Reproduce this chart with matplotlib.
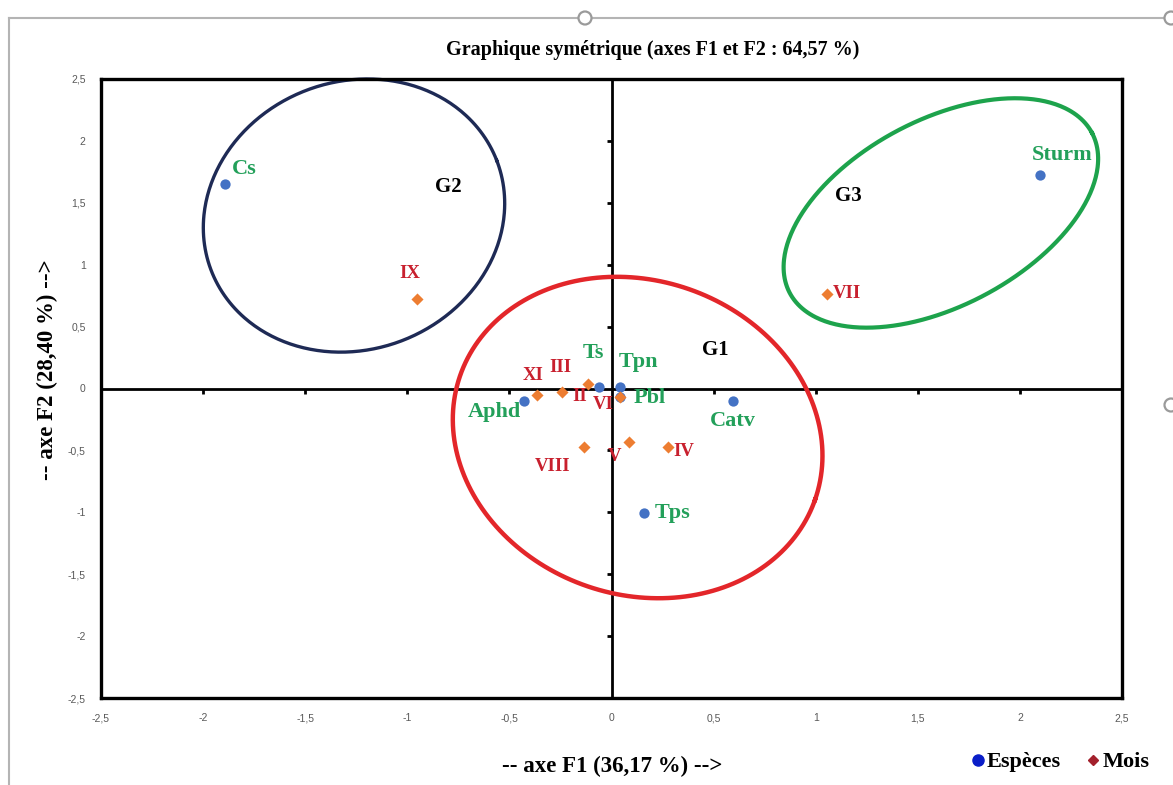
import numpy as np
import matplotlib
matplotlib.use("Agg")
import matplotlib.pyplot as plt
from matplotlib.lines import Line2D
from matplotlib.patches import Circle
from matplotlib.ticker import FuncFormatter, MultipleLocator

# ---- Coordinates on the first two factorial axes ----
especes = ["Cs", "Sturm", "Ts", "Tpn", "Pbl", "Aphd", "Catv", "Tps"]
especes_f1 = [-1.894, 2.098, -0.060, 0.042, 0.042, -0.427, 0.596, 0.159]
especes_f2 = [1.652, 1.725, 0.010, 0.010, -0.069, -0.101, -0.101, -1.008]

mois = ["II", "III", "IV", "V", "VI", "VII", "VIII", "IX", "XI"]
mois_f1 = [-0.244, -0.114, 0.275, 0.086, 0.042, 1.057, -0.135, -0.954, -0.363]
mois_f2 = [-0.031, 0.034, -0.475, -0.430, -0.066, 0.763, -0.475, 0.721, -0.055]

groupes = ["G1", "G2", "G3"]
groupes_f1 = [0.507, -0.799, 1.160]
groupes_f2 = [0.311, 1.625, 1.557]

ticks = [-2.5, -2, -1.5, -1, -0.5, 0, 0.5, 1, 1.5, 2, 2.5]

# ---- Styling ----
SERIF = "Liberation Serif"
SANS = "Liberation Sans"
C_ESP = "#4472C4"
C_MOIS = "#ED7D31"
C_ESP_TXT = "#23A05A"
C_MOIS_TXT = "#C8202E"

# label offsets in pixels (right, up)
esp_offsets = {"Cs": (20, 15), "Sturm": (22, 20), "Ts": (-6, 34), "Tpn": (18, 25),
               "Pbl": (30, -1), "Aphd": (-30, -11), "Catv": (0, -20), "Tps": (29, 0)}
mois_offsets = {"II": (18, -4), "III": (-28, 17), "IV": (16, -4), "V": (-15, -15),
                "VI": (-17, -8), "VII": (20, 1), "VIII": (-31, -19), "IX": (-7, 26),
                "XI": (-4, 20)}

# group outlines: centre (F1, F2), semi-axes in pixels, tilt in degrees, colour, width
contours = [
    ((0.128, -0.396), 188, 157, -19.4, "#E3262A", 3.2),
    ((-1.261, 1.397), 153, 134, 21.0, "#1E2A55", 2.4),
    ((1.613, 1.418), 171, 93, 27.9, "#1DA34C", 3.0),
]

W, H, DPI = 1173, 785, 100
fig = plt.figure(figsize=(W / DPI, H / DPI), dpi=DPI)
fig.patch.set_facecolor("white")
ax = fig.add_axes([101 / W, 1 - 698 / H, (1122 - 101) / W, (698 - 79) / H])

ax.set_xlim(-2.5, 2.5)
ax.set_ylim(-2.5, 2.5)
fmt = FuncFormatter(lambda v, p: ("%g" % v).replace(".", ","))
ax.xaxis.set_major_locator(MultipleLocator(0.5))
ax.yaxis.set_major_locator(MultipleLocator(0.5))
ax.xaxis.set_major_formatter(fmt)
ax.yaxis.set_major_formatter(fmt)
ax.tick_params(length=0, labelsize=7.5, labelcolor="#595959", pad=11)
for lab in ax.get_xticklabels() + ax.get_yticklabels():
    lab.set_fontfamily(SANS)
for s in ax.spines.values():
    s.set_linewidth(2.4)
    s.set_color("black")

# axes through the origin with small tick marks
ax.axhline(0, color="black", lw=2, zorder=1)
ax.axvline(0, color="black", lw=2, zorder=1)
inner = [t for t in ticks if abs(t) < 2.5 and t != 0]
ax.plot(inner, [0] * len(inner), ls="none", marker=3, ms=3.5, mew=2, color="black", zorder=1)
ax.plot([0] * len(inner), inner, ls="none", marker=0, ms=3.5, mew=2, color="black", zorder=1)

# group outlines, drawn in screen proportions
fig.canvas.draw()
p0 = ax.transData.transform((0, 0))
p1 = ax.transData.transform((1, 1))
sx, sy = p1[0] - p0[0], p1[1] - p0[1]
t = np.linspace(0, 2 * np.pi, 400)
for (cx, cy), a, b, ang, col, lw in contours:
    th = np.radians(ang)
    ex = a * np.cos(t) * np.cos(th) - b * np.sin(t) * np.sin(th)
    ey = a * np.cos(t) * np.sin(th) + b * np.sin(t) * np.cos(th)
    ax.plot(cx + ex / sx, cy + ey / sy, color=col, lw=lw, zorder=2, clip_on=False)

# points
ax.scatter(especes_f1, especes_f2, s=55, color=C_ESP, zorder=4, linewidths=0)
ax.scatter(mois_f1, mois_f2, s=38, marker="D", color=C_MOIS, zorder=5, linewidths=0)

for name, x, y in zip(especes, especes_f1, especes_f2):
    ax.annotate(name, (x, y), xytext=esp_offsets[name], textcoords="offset pixels",
                ha="center", va="center", fontsize=16, fontweight="bold",
                family=SERIF, color=C_ESP_TXT, zorder=6)
for name, x, y in zip(mois, mois_f1, mois_f2):
    ax.annotate(name, (x, y), xytext=mois_offsets[name], textcoords="offset pixels",
                ha="center", va="center", fontsize=13.5, fontweight="bold",
                family=SERIF, color=C_MOIS_TXT, zorder=6)
for name, x, y in zip(groupes, groupes_f1, groupes_f2):
    ax.text(x, y, name, ha="center", va="center", fontsize=15, fontweight="bold",
            family=SERIF, color="black", zorder=6)

# titles
fig.text(653 / W, 1 - 50 / H, "Graphique symétrique (axes F1 et F2 : 64,57 %)",
         ha="center", va="center", fontsize=14.5, fontweight="bold", family=SERIF)
fig.text(612 / W, 1 - 766 / H, "-- axe F1 (36,17 %) -->", ha="center", va="center",
         fontsize=16.5, fontweight="bold", family=SERIF)
fig.text(47 / W, 1 - 370 / H, "-- axe F2 (28,40 %) -->", ha="center", va="center",
         rotation=90, fontsize=16.5, fontweight="bold", family=SERIF)

# legend
handles = [
    Line2D([], [], ls="none", marker="o", ms=8, color="#0A1EC8", label="Espèces"),
    Line2D([], [], ls="none", marker="D", ms=5.5, color="#A3202C", label="Mois"),
]
fig.legend(handles=handles, loc="center", bbox_to_anchor=(1061 / W, 1 - 762 / H),
           ncol=2, frameon=False, handlelength=0.5, handletextpad=0.15,
           columnspacing=1.2, prop={"family": SERIF, "weight": "bold", "size": 16})

# selection frame around the chart object
gray = "#B4B4B4"
fig.add_artist(Line2D([9 / W, 1], [1 - 18 / H, 1 - 18 / H], color=gray, lw=1.5,
                      transform=fig.transFigure))
fig.add_artist(Line2D([9 / W, 9 / W], [0, 1 - 18 / H], color=gray, lw=1.5,
                      transform=fig.transFigure))
for (hx, hy) in [(585, 18), (1171, 18), (1171, 405)]:
    fig.add_artist(Circle((hx, H - hy), 6.5, transform=None, facecolor="white",
                          edgecolor="#9A9A9A", lw=1.6, zorder=10))

fig.savefig("out.png", dpi=DPI, facecolor="white")
